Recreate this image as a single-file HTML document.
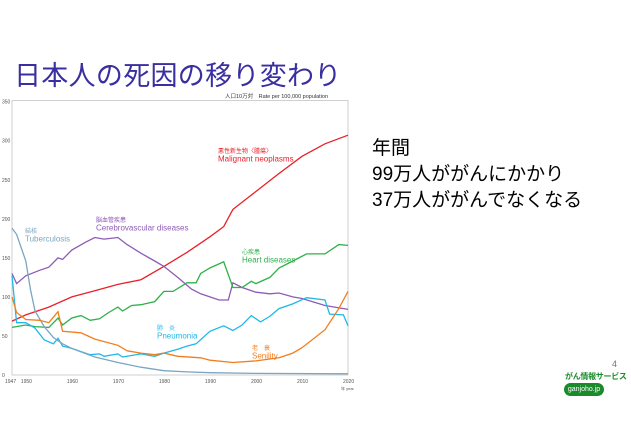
<!DOCTYPE html>
<html><head><meta charset="utf-8"><style>
body{margin:0;width:631px;height:444px;background:#fff;overflow:hidden;position:relative;font-family:"Liberation Sans","Noto Sans CJK JP",sans-serif}
.t{position:absolute;left:14px;top:54px;font-size:27px;color:#3a2fa0;letter-spacing:0.3px;white-space:nowrap}
.r{position:absolute;left:372px;font-size:19px;color:#000;white-space:nowrap}
</style></head><body>
<div class="t">日本人の死因の移り変わり</div>
<div class="r" style="top:133px">年間</div>
<div class="r" style="top:159px">99万人ががんにかかり</div>
<div class="r" style="top:185px">37万人ががんでなくなる</div>
<div style="position:absolute;left:612px;top:359px;font-size:9px;color:#777">4</div>
<div style="position:absolute;left:565px;top:371px;font-size:8px;font-weight:bold;color:#1a8a2a;white-space:nowrap;letter-spacing:-0.3px">がん情報サービス</div>
<div style="position:absolute;left:564px;top:383px;width:40px;height:13px;border-radius:7px;background:#1a8a2a;color:#fff;font-size:7px;text-align:center;line-height:13px">ganjoho.jp</div>
<svg id="s" width="631" height="444" style="position:absolute;left:0;top:0" font-family="Liberation Sans, Noto Sans CJK JP, sans-serif"></svg>
<script>
const X=y=>12+(y-1947)*336/73, Y=v=>375-v*0.781;
let h='';
h+=`<rect x="12" y="100.5" width="336" height="274.5" fill="none" stroke="#bbb" stroke-width="0.7"/>`;
for(let v=0;v<=350;v+=50){h+=`<text x="2" y="${Y(v)+2}" font-size="5" fill="#555">${v}</text>`;}
[[1947,'1947'],[1950,'1950'],[1960,'1960'],[1970,'1970'],[1980,'1980'],[1990,'1990'],[2000,'2000'],[2010,'2010'],[2020,'2020']].forEach(([y,l])=>{h+=`<text x="${X(y)-(y==1947?7:5)}" y="383" font-size="5" fill="#555">${l}</text>`;});
h+=`<text x="341" y="390" font-size="4" fill="#555">年 year</text>`;
h+=`<text x="225" y="98" font-size="5.5" fill="#333">人口10万対　Rate per 100,000 population</text>`;
const S={
'#e8202a':[[1947,69],[1950,77],[1955,87],[1960,100],[1965,108],[1970,116],[1975,122],[1980,139],[1985,157],[1990,177],[1993,190],[1995,212],[2000,235],[2005,258],[2010,280],[2015,296],[2020,307]],
'#8e5bb5':[[1947,130],[1948,117],[1950,127],[1953,134],[1955,138],[1957,150],[1958,148],[1960,160],[1963,170],[1965,176],[1967,174],[1970,176],[1972,167],[1975,156],[1978,146],[1980,139],[1983,125],[1986,110],[1988,104],[1990,100],[1992,96],[1994,96],[1995,118],[1997,112],[2000,106],[2003,104],[2005,105],[2008,100],[2010,98],[2015,89],[2020,84]],
'#2fb04a':[[1947,61],[1950,64],[1952,62],[1955,61],[1957,73],[1958,64],[1960,73],[1962,76],[1964,70],[1966,72],[1968,80],[1970,87],[1971,82],[1973,89],[1975,90],[1978,94],[1980,107],[1982,107],[1985,118],[1987,118],[1988,130],[1990,137],[1993,145],[1995,112],[1997,112],[1999,120],[2000,117],[2003,125],[2005,137],[2008,146],[2011,155],[2015,155],[2018,167],[2020,166]],
'#1fb8e8':[[1947,127],[1948,67],[1950,67],[1952,60],[1954,45],[1956,40],[1957,47],[1958,37],[1960,34],[1962,30],[1964,26],[1966,27],[1967,24],[1970,27],[1971,23],[1975,27],[1978,24],[1980,28],[1983,33],[1985,37],[1987,40],[1990,56],[1993,63],[1995,57],[1997,64],[1999,76],[2001,68],[2003,75],[2005,85],[2008,91],[2011,99],[2015,96],[2016,78],[2019,77],[2020,63]],
'#7aa6c2':[[1947,188],[1948,180],[1950,146],[1951,110],[1952,82],[1954,62],[1956,48],[1958,40],[1960,34],[1965,23],[1970,16],[1975,10],[1980,5.5],[1985,4],[1990,3],[2000,2],[2020,1.5]],
'#f27d1e':[[1947,100],[1948,80],[1950,71],[1953,70],[1955,67],[1957,81],[1958,56],[1962,54],[1965,46],[1970,38],[1972,31],[1975,28],[1978,26],[1980,28],[1983,24],[1988,22],[1990,19],[1995,16],[2000,18],[2005,22],[2008,28],[2010,35],[2015,58],[2018,85],[2020,107]]};
for(const c in S){h+=`<polyline fill="none" stroke="${c}" stroke-width="1.3" points="${S[c].map(p=>X(p[0]).toFixed(1)+','+Y(p[1]).toFixed(1)).join(' ')}"/>`;}
const L=[[218,153,'#e8202a','悪性新生物〈腫瘍〉','Malignant neoplasms'],[96,222,'#8e5bb5','脳血管疾患','Cerebrovascular diseases'],[25,233,'#7aa6c2','結核','Tuberculosis'],[242,254,'#2fb04a','心疾患','Heart diseases'],[157,330,'#1fb8e8','肺　炎','Pneumonia'],[252,350,'#f27d1e','老　衰','Senility']];
L.forEach(([x,y,c,j,e])=>{h+=`<text x="${x}" y="${y}" font-size="6" fill="${c}">${j}</text><text x="${x}" y="${y+8.5}" font-size="8" fill="${c}">${e}</text>`;});
document.getElementById('s').innerHTML=h;
</script>
</body></html>
